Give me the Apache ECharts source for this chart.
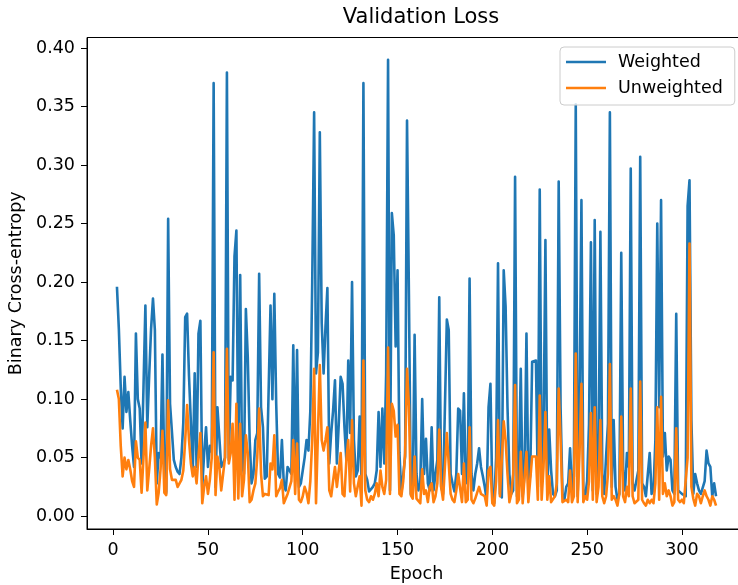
<!DOCTYPE html>
<html>
<head>
<meta charset="utf-8">
<script src="https://cdn.jsdelivr.net/npm/echarts@6/dist/echarts.min.js"></script>
<style>
  html, body { margin: 0; padding: 0; background: #fff; }
  #chart { width: 738px; height: 585px; }
</style>
</head>
<body>
<div id="chart"></div>
<script>
// Validation loss per epoch, first recorded epoch is 2
const startEpoch = 2;

const weighted = [
  0.196, 0.160, 0.110, 0.075, 0.119, 0.089, 0.106, 0.082, 0.060, 0.042,
  0.156, 0.100, 0.092, 0.045, 0.110, 0.180, 0.076, 0.120, 0.160, 0.186,
  0.159, 0.028, 0.054, 0.050, 0.138, 0.036, 0.020, 0.254, 0.096, 0.096,
  0.048, 0.042, 0.038, 0.036, 0.050, 0.080, 0.170, 0.173, 0.120, 0.119,
  0.039, 0.122, 0.042, 0.156, 0.167, 0.025, 0.054, 0.076, 0.042, 0.060,
  0.055, 0.370, 0.025, 0.093, 0.093, 0.042, 0.045, 0.050, 0.379, 0.048,
  0.119, 0.116, 0.222, 0.244, 0.050, 0.206, 0.045, 0.036, 0.177, 0.136,
  0.065, 0.028, 0.036, 0.065, 0.071, 0.207, 0.093, 0.076, 0.032, 0.034,
  0.035, 0.180, 0.100, 0.190, 0.096, 0.036, 0.033, 0.065, 0.028, 0.022,
  0.042, 0.039, 0.036, 0.146, 0.036, 0.142, 0.025, 0.028, 0.039, 0.050,
  0.065, 0.056, 0.090, 0.200, 0.345, 0.122, 0.140, 0.328, 0.165, 0.122,
  0.162, 0.195, 0.045, 0.071, 0.090, 0.116, 0.045, 0.079, 0.119, 0.113,
  0.076, 0.048, 0.133, 0.071, 0.200, 0.065, 0.034, 0.039, 0.085, 0.031,
  0.370, 0.036, 0.031, 0.021, 0.021, 0.025, 0.028, 0.039, 0.089, 0.042,
  0.092, 0.045, 0.122, 0.390, 0.022, 0.259, 0.240, 0.145, 0.210, 0.054,
  0.019, 0.035, 0.051, 0.338, 0.190, 0.019, 0.016, 0.155, 0.036, 0.022,
  0.028, 0.100, 0.036, 0.066, 0.028, 0.022, 0.076, 0.022, 0.036, 0.048,
  0.187, 0.025, 0.019, 0.019, 0.168, 0.159, 0.036, 0.028, 0.021, 0.036,
  0.092, 0.090, 0.036, 0.105, 0.028, 0.030, 0.203, 0.036, 0.022, 0.036,
  0.045, 0.058, 0.042, 0.034, 0.025, 0.014, 0.093, 0.113, 0.017, 0.011,
  0.050, 0.216, 0.019, 0.016, 0.210, 0.179, 0.093, 0.036, 0.019, 0.022,
  0.290, 0.017, 0.039, 0.126, 0.017, 0.036, 0.156, 0.022, 0.036, 0.132,
  0.133, 0.133, 0.025, 0.279, 0.036, 0.065, 0.236, 0.022, 0.074, 0.039,
  0.019, 0.017, 0.022, 0.286, 0.093, 0.019, 0.014, 0.025, 0.028, 0.058,
  0.022, 0.034, 0.352, 0.017, 0.093, 0.270, 0.019, 0.017, 0.030, 0.079,
  0.234, 0.022, 0.253, 0.019, 0.036, 0.243, 0.036, 0.019, 0.051, 0.079,
  0.345, 0.025, 0.082, 0.025, 0.014, 0.019, 0.225, 0.039, 0.022, 0.054,
  0.042, 0.297, 0.028, 0.022, 0.022, 0.039, 0.307, 0.028, 0.025, 0.017,
  0.017, 0.054, 0.019, 0.022, 0.065, 0.250, 0.093, 0.270, 0.051, 0.071,
  0.039, 0.051, 0.048, 0.022, 0.019, 0.173, 0.022, 0.021, 0.019, 0.019,
  0.017, 0.265, 0.287, 0.082, 0.019, 0.036, 0.028, 0.022, 0.019, 0.019,
  0.030, 0.056, 0.045, 0.042, 0.017, 0.028, 0.017
];

const unweighted = [
  0.108, 0.100, 0.060, 0.034, 0.050, 0.040, 0.048, 0.040, 0.030, 0.025,
  0.064, 0.050, 0.048, 0.020, 0.050, 0.080, 0.022, 0.040, 0.060, 0.075,
  0.050, 0.010, 0.020, 0.040, 0.073, 0.020, 0.018, 0.099, 0.040, 0.031,
  0.031, 0.031, 0.025, 0.028, 0.031, 0.039, 0.065, 0.095, 0.065, 0.045,
  0.034, 0.042, 0.028, 0.051, 0.071, 0.011, 0.025, 0.034, 0.019, 0.031,
  0.050, 0.140, 0.018, 0.051, 0.042, 0.022, 0.036, 0.050, 0.143, 0.045,
  0.054, 0.079, 0.014, 0.096, 0.015, 0.079, 0.017, 0.031, 0.069, 0.054,
  0.012, 0.014, 0.022, 0.028, 0.050, 0.092, 0.036, 0.017, 0.019, 0.019,
  0.018, 0.045, 0.040, 0.069, 0.017, 0.021, 0.024, 0.031, 0.011, 0.012,
  0.019, 0.019, 0.030, 0.065, 0.019, 0.062, 0.014, 0.012, 0.017, 0.025,
  0.020, 0.011, 0.030, 0.065, 0.126, 0.011, 0.011, 0.129, 0.065, 0.056,
  0.065, 0.076, 0.022, 0.017, 0.030, 0.042, 0.025, 0.039, 0.054, 0.019,
  0.017, 0.048, 0.065, 0.021, 0.082, 0.028, 0.017, 0.017, 0.034, 0.009,
  0.133, 0.022, 0.014, 0.012, 0.017, 0.014, 0.019, 0.028, 0.017, 0.039,
  0.025, 0.019, 0.031, 0.144, 0.019, 0.096, 0.090, 0.068, 0.078, 0.019,
  0.017, 0.030, 0.054, 0.126, 0.094, 0.018, 0.015, 0.051, 0.015, 0.014,
  0.011, 0.040, 0.019, 0.022, 0.012, 0.025, 0.028, 0.012, 0.017, 0.028,
  0.074, 0.025, 0.014, 0.014, 0.071, 0.072, 0.019, 0.014, 0.012, 0.022,
  0.036, 0.036, 0.012, 0.045, 0.012, 0.014, 0.076, 0.014, 0.011, 0.015,
  0.020, 0.025, 0.019, 0.019, 0.017, 0.009, 0.039, 0.042, 0.011, 0.009,
  0.030, 0.082, 0.017, 0.017, 0.081, 0.065, 0.036, 0.012, 0.019, 0.036,
  0.112, 0.011, 0.014, 0.055, 0.011, 0.011, 0.055, 0.012, 0.011, 0.051,
  0.051, 0.051, 0.014, 0.103, 0.014, 0.042, 0.089, 0.014, 0.034, 0.012,
  0.012, 0.017, 0.028, 0.109, 0.065, 0.012, 0.012, 0.014, 0.012, 0.039,
  0.012, 0.017, 0.139, 0.012, 0.054, 0.113, 0.012, 0.017, 0.014, 0.030,
  0.088, 0.014, 0.093, 0.012, 0.025, 0.082, 0.017, 0.011, 0.017, 0.036,
  0.130, 0.014, 0.017, 0.014, 0.009, 0.019, 0.085, 0.017, 0.012, 0.025,
  0.017, 0.109, 0.017, 0.011, 0.011, 0.014, 0.115, 0.014, 0.011, 0.009,
  0.014, 0.011, 0.014, 0.011, 0.028, 0.093, 0.014, 0.102, 0.019, 0.028,
  0.017, 0.022, 0.017, 0.009, 0.012, 0.075, 0.014, 0.012, 0.014, 0.011,
  0.012, 0.050, 0.233, 0.025, 0.015, 0.009, 0.019, 0.017, 0.011, 0.017,
  0.022, 0.017, 0.014, 0.009, 0.017, 0.014, 0.009
];

const xTicks = [0, 50, 100, 150, 200, 250, 300];
const yTicks = [0.00, 0.05, 0.10, 0.15, 0.20, 0.25, 0.30, 0.35, 0.40];

const FONT = 'DejaVu Sans';
const BLUE = '#1f77b4';
const ORANGE = '#ff7f0e';

function pairs(values) {
  return values.map((v, i) => [startEpoch + i, v]);
}

const chart = echarts.init(document.getElementById('chart'), null, { renderer: 'canvas' });

chart.setOption({
  animation: false,
  backgroundColor: '#ffffff',
  textStyle: { fontFamily: FONT, color: '#000' },
  title: {
    text: 'Validation Loss',
    left: 416,
    textAlign: 'center',
    top: 2,
    textStyle: { fontFamily: FONT, fontSize: 21, fontWeight: 'normal', color: '#000' }
  },
  legend: {
    orient: 'vertical',
    left: 560,
    top: 47,
    padding: [6, 12, 8, 6],
    itemGap: 8,
    itemWidth: 40,
    itemHeight: 2.6,
    icon: 'rect',
    backgroundColor: 'rgba(255,255,255,0.8)',
    borderColor: '#cccccc',
    borderWidth: 1,
    borderRadius: 4,
    textStyle: { fontFamily: FONT, fontSize: 17.5, color: '#000', padding: [0, 0, 0, 7] },
    data: ['Weighted', 'Unweighted']
  },
  grid: {
    left: 87,
    top: 37.5,
    width: 659,
    height: 491.5,
    show: true,
    borderColor: '#000',
    borderWidth: 1,
    backgroundColor: 'transparent',
    containLabel: false,
    outerBoundsMode: 'none'
  },
  xAxis: {
    type: 'value',
    min: -13.8,
    max: 333.8,
    name: 'Epoch',
    nameLocation: 'middle',
    nameGap: 36,
    nameTextStyle: { fontFamily: FONT, fontSize: 17.5, color: '#000' },
    axisLine: { show: true, onZero: false, lineStyle: { color: '#000', width: 1 } },
    axisTick: { show: true, length: 6, lineStyle: { color: '#000', width: 1 }, customValues: xTicks },
    axisLabel: {
      fontFamily: FONT, fontSize: 17.5, color: '#000', margin: 12,
      customValues: xTicks,
      formatter: v => String(v)
    },
    splitLine: { show: false }
  },
  yAxis: {
    type: 'value',
    min: -0.011,
    max: 0.409,
    name: 'Binary Cross-entropy',
    nameLocation: 'middle',
    nameRotate: 90,
    nameGap: 60,
    nameTextStyle: { fontFamily: FONT, fontSize: 17.5, color: '#000' },
    axisLine: { show: true, onZero: false, lineStyle: { color: '#000', width: 1 } },
    axisTick: { show: true, length: 6, lineStyle: { color: '#000', width: 1 }, customValues: yTicks },
    axisLabel: {
      fontFamily: FONT, fontSize: 17.5, color: '#000', margin: 12,
      customValues: yTicks,
      formatter: v => v.toFixed(2)
    },
    splitLine: { show: false }
  },
  series: [
    {
      name: 'Weighted',
      type: 'line',
      data: pairs(weighted),
      showSymbol: false,
      symbol: 'none',
      color: BLUE,
      lineStyle: { color: BLUE, width: 2.6, join: 'round' },
      clip: true,
      z: 2
    },
    {
      name: 'Unweighted',
      type: 'line',
      data: pairs(unweighted),
      showSymbol: false,
      symbol: 'none',
      color: ORANGE,
      lineStyle: { color: ORANGE, width: 2.6, join: 'round' },
      clip: true,
      z: 3
    }
  ]
});
</script>
</body>
</html>
